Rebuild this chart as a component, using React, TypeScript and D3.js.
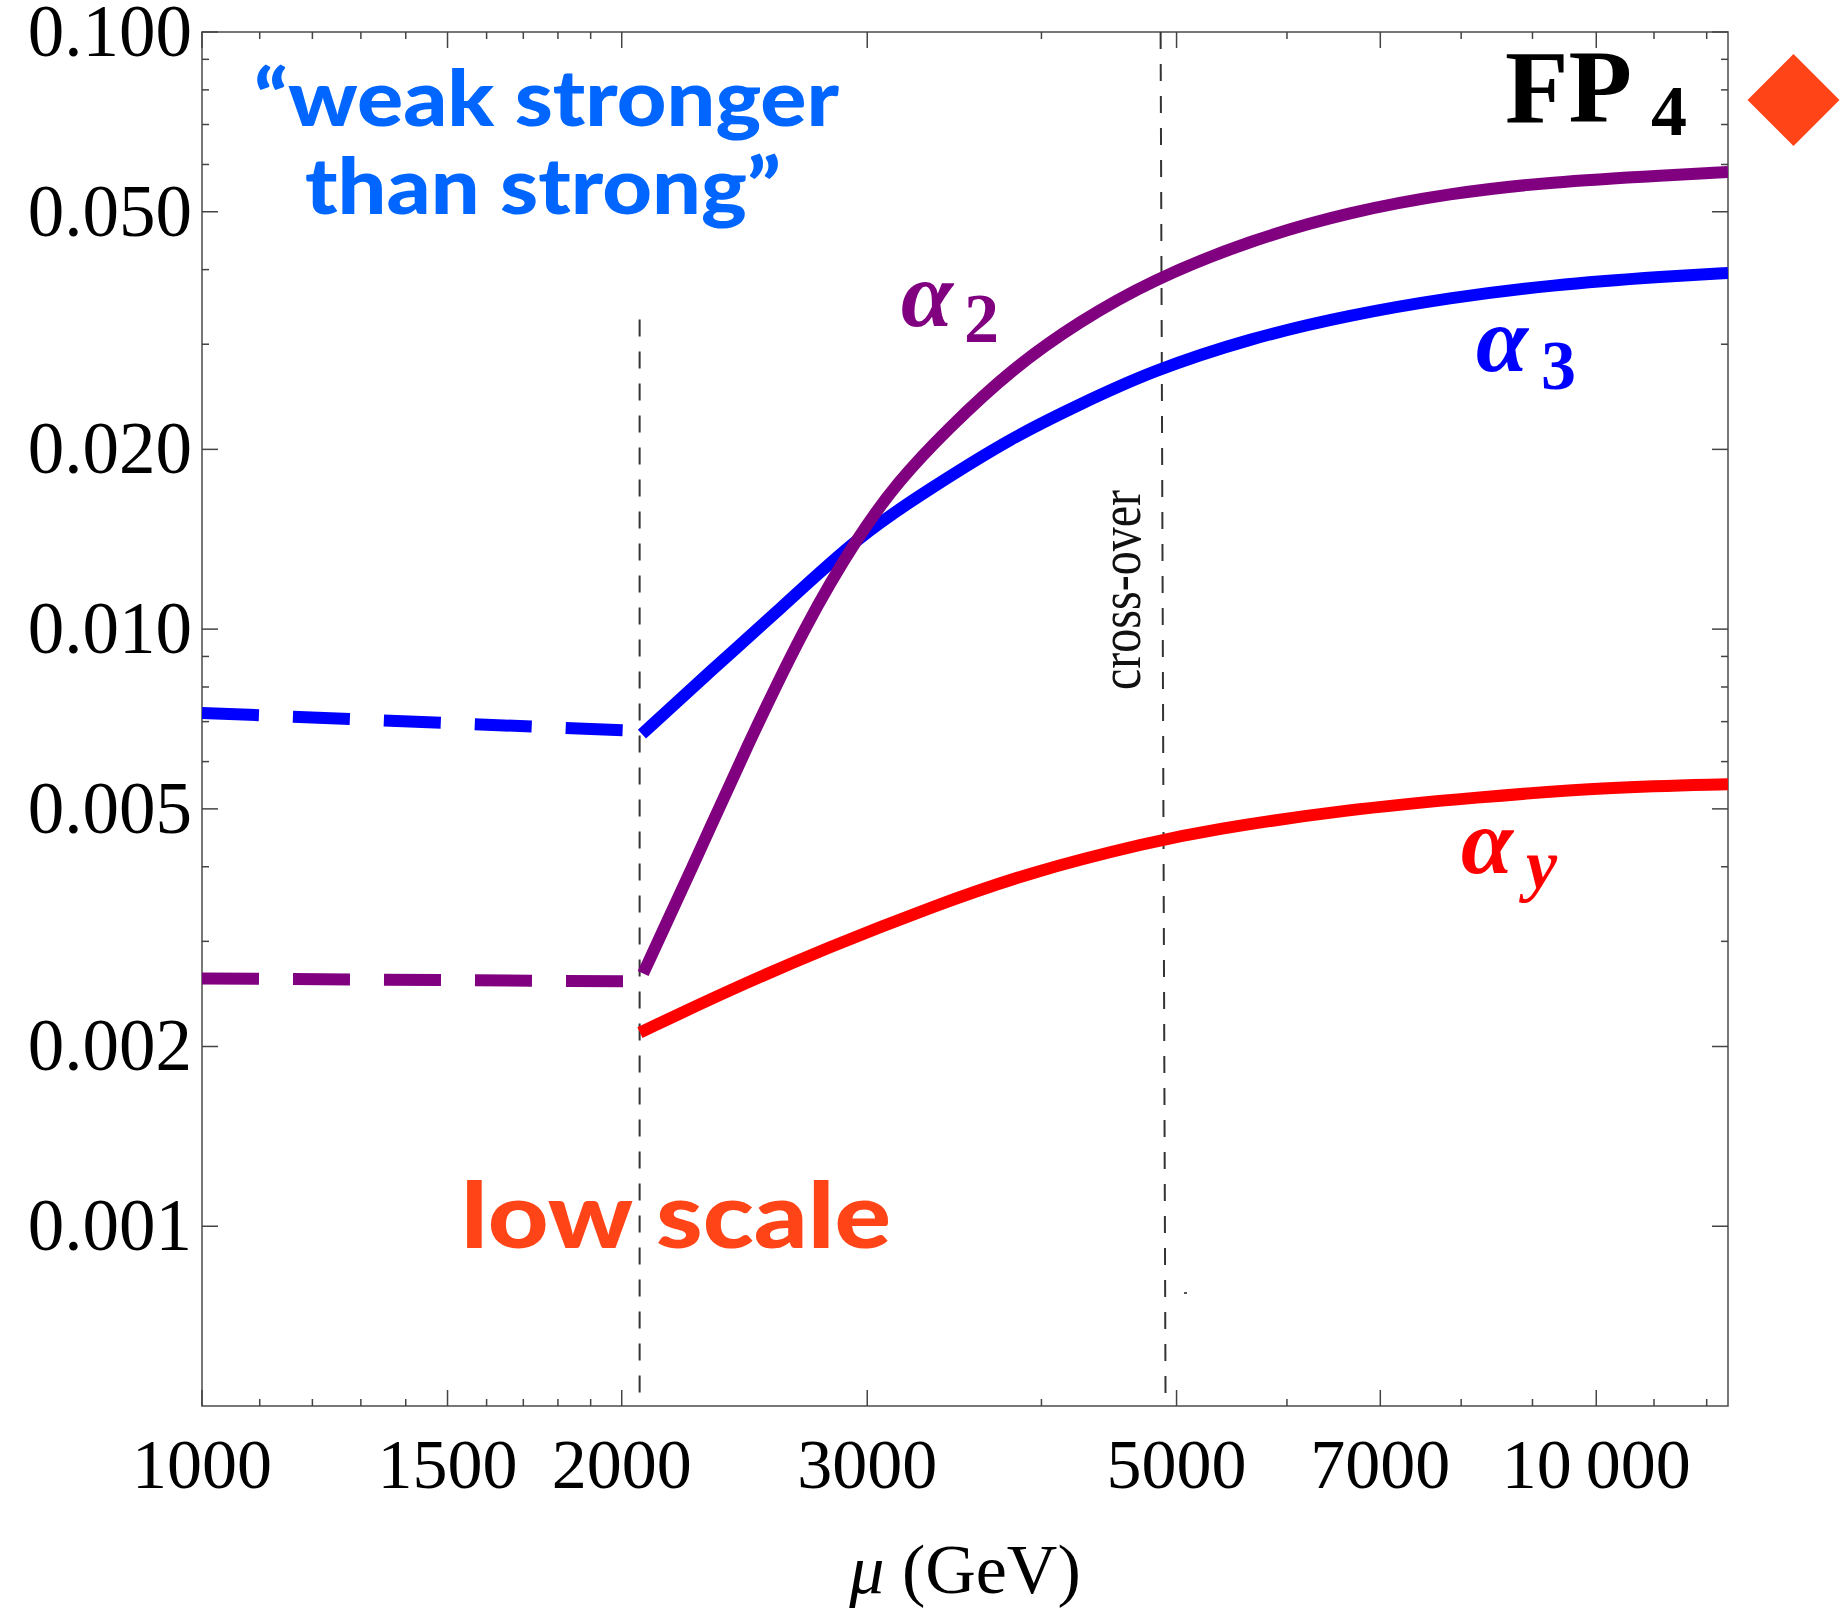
import * as d3 from 'd3'
import { useEffect, useRef } from 'react'

// frame of the plot (px)
const W = 1843
const H = 1610
const left = 202
const right = 1728
const top = 32
const bottom = 1406

// axis ticks
const xMajor = [1000, 1500, 2000, 3000, 5000, 7000, 10000]
const xLabels = ['1000', '1500', '2000', '3000', '5000', '7000', '10\u2009000']
const xMinor = [1100, 1200, 1300, 1400, 1600, 1700, 1800, 1900, 4000, 6000, 8000, 9000, 11000, 12000]
const yMajor = [0.1, 0.05, 0.02, 0.01, 0.005, 0.002, 0.001]
const yLabels = ['0.100', '0.050', '0.020', '0.010', '0.005', '0.002', '0.001']
const yMinor = [0.09, 0.08, 0.07, 0.06, 0.04, 0.03, 0.009, 0.008, 0.007, 0.006, 0.004, 0.003]

// vertical markers
const lowScaleMu = 2060
const lowScaleTop = 0.033
const crossOverMu = [4870, 4910] // top, bottom

// alpha_2 (purple)
const a2Mu = [2072, 2265, 2452, 2716, 2955, 3151, 3423, 3817, 4263, 4786, 5645, 6659, 7855, 9265, 11296, 12430]
const a2 = [0.00265, 0.00415, 0.00627, 0.0103, 0.0143, 0.0176, 0.0216, 0.0274, 0.0328, 0.0383, 0.0448, 0.0500, 0.0537, 0.0561, 0.0576, 0.0583]
// alpha_3 (blue)
const a3Mu = [2068, 2325, 2598, 2955, 3328, 3817, 4263, 4786, 5645, 6659, 7855, 9265, 11296, 12430]
const a3 = [0.00667, 0.00858, 0.0108, 0.0143, 0.0172, 0.0210, 0.0238, 0.0270, 0.0307, 0.0336, 0.0359, 0.0377, 0.0390, 0.0395]
// alpha_y (red)
const ayMu = [2061, 2392, 2821, 3328, 3926, 4786, 5284, 6582, 8212, 10231, 12430]
const ay = [0.00211, 0.00249, 0.00294, 0.00342, 0.00392, 0.00440, 0.00461, 0.00498, 0.00523, 0.00544, 0.00550]
// low-scale continuation (dashed)
const lowMu = [1000, 2060]
const a3Low = [0.00724, 0.00675]
const a2Low = [0.00260, 0.00257]

const PURPLE = '#800080'
const BLUE = '#0000ff'
const RED = '#ff0000'
const ORANGE = '#ff4418'

const App = () => {
  const svgRef = useRef<SVGSVGElement>(null)

  useEffect(() => {
    const svg = d3.select(svgRef.current)
    svg.selectAll('*').remove()

    const x = d3.scaleLog().domain([1000, 12430]).range([left, right])
    const y = d3.scaleLog().domain([0.0005, 0.1]).range([bottom, top])

    svg.append('defs').append('clipPath').attr('id', 'plot')
      .append('rect').attr('x', left).attr('y', top).attr('width', right - left).attr('height', bottom - top)

    // frame
    svg.append('rect').attr('x', left).attr('y', top).attr('width', right - left).attr('height', bottom - top)
      .attr('fill', 'none').attr('stroke', '#555').attr('stroke-width', 1.6)

    // ticks on all four sides, pointing inward
    const ticks = svg.append('g').attr('stroke', '#444').attr('stroke-width', 1.5)
    const xt = [...xMajor.map(v => ({ v, l: 16 })), ...xMinor.map(v => ({ v, l: 7 }))]
    const yt = [...yMajor.map(v => ({ v, l: 16 })), ...yMinor.map(v => ({ v, l: 7 }))]
    ticks.selectAll('.xb').data(xt).join('line')
      .attr('x1', d => x(d.v)).attr('x2', d => x(d.v)).attr('y1', bottom).attr('y2', d => bottom - d.l)
    ticks.selectAll('.xt').data(xt).join('line')
      .attr('x1', d => x(d.v)).attr('x2', d => x(d.v)).attr('y1', top).attr('y2', d => top + d.l)
    ticks.selectAll('.yl').data(yt).join('line')
      .attr('y1', d => y(d.v)).attr('y2', d => y(d.v)).attr('x1', left).attr('x2', d => left + d.l)
    ticks.selectAll('.yr').data(yt).join('line')
      .attr('y1', d => y(d.v)).attr('y2', d => y(d.v)).attr('x1', right).attr('x2', d => right - d.l)

    // tick labels
    const serif = "'Liberation Serif', 'Times New Roman', serif"
    svg.append('g').selectAll('text').data(xMajor).join('text')
      .attr('x', d => x(d)).attr('y', 1488).attr('text-anchor', 'middle')
      .style('font-family', serif).style('font-size', '70px').text((d, i) => xLabels[i])
    svg.append('g').selectAll('text').data(yMajor).join('text')
      .attr('x', 192).attr('y', d => y(d) + 24).attr('text-anchor', 'end')
      .style('font-family', serif).style('font-size', '73px').text((d, i) => yLabels[i])

    // axis title
    const xt2 = svg.append('text').attr('x', 965).attr('y', 1593).attr('text-anchor', 'middle')
      .style('font-family', serif).style('font-size', '70px')
    xt2.append('tspan').style('font-style', 'italic').text('\u03bc')
    xt2.append('tspan').text(' (GeV)')

    // vertical dashed markers
    svg.append('line').attr('x1', x(lowScaleMu)).attr('x2', x(lowScaleMu))
      .attr('y1', y(lowScaleTop)).attr('y2', bottom)
      .attr('stroke', '#333').attr('stroke-width', 2).attr('stroke-dasharray', '17,15')
    svg.append('line').attr('x1', x(crossOverMu[0])).attr('x2', x(crossOverMu[1]))
      .attr('y1', top).attr('y2', bottom)
      .attr('stroke', '#333').attr('stroke-width', 2).attr('stroke-dasharray', '17,15')
    // stray speck under the cross-over line
    svg.append('rect').attr('x', 1184).attr('y', 1292).attr('width', 3).attr('height', 2).attr('fill', '#555')

    // curves
    const line = d3.line<[number, number]>().x(d => x(d[0])).y(d => y(d[1])).curve(d3.curveBasis)
    const plot = svg.append('g').attr('clip-path', 'url(#plot)')
    const series = [
      { mu: lowMu, a: a3Low, c: BLUE, dash: '57,34' },
      { mu: lowMu, a: a2Low, c: PURPLE, dash: '57,34' },
      { mu: ayMu, a: ay, c: RED, dash: null },
      { mu: a3Mu, a: a3, c: BLUE, dash: null },
      { mu: a2Mu, a: a2, c: PURPLE, dash: null }
    ]
    plot.selectAll('path').data(series).join('path')
      .attr('d', s => line(s.mu.map((m, i) => [m, s.a[i]] as [number, number])))
      .attr('fill', 'none').attr('stroke', s => s.c).attr('stroke-width', 12)
      .attr('stroke-dasharray', s => s.dash)

    // curve labels
    const alphaLabel = (ax: number, ay0: number, sx: number, sy: number, sub: string, c: string, italicSub: boolean) => {
      const g = svg.append('g').attr('fill', c).style('font-family', serif).style('font-weight', 'bold')
      g.append('text').attr('x', ax).attr('y', ay0).style('font-size', '94px').style('font-style', 'italic').text('\u03b1')
      g.append('text').attr('x', sx).attr('y', sy).style('font-size', '70px')
        .style('font-style', italicSub ? 'italic' : 'normal').text(sub)
    }
    alphaLabel(901, 326, 964, 342, '2', PURPLE, false)
    alphaLabel(1476, 371, 1541, 389, '3', BLUE, false)
    alphaLabel(1461, 873, 1526, 888, 'y', RED, true)

    // FP4 and marker
    const fp = svg.append('g').style('font-family', serif).style('font-weight', 'bold').attr('fill', '#000')
    fp.append('text').attr('x', 1505).attr('y', 122).style('font-size', '104px').text('FP')
    fp.append('text').attr('x', 1651).attr('y', 135).style('font-size', '72px').text('4')
    const cx = 1793.5, cy = 100, r = 46
    svg.append('path').attr('d', `M${cx},${cy - r}L${cx + r},${cy}L${cx},${cy + r}L${cx - r},${cy}Z`).attr('fill', ORANGE)

    // annotations
    const sans = "Lato, 'Open Sans', sans-serif"
    svg.append('text').attr('x', 254).attr('y', 126).attr('textLength', 585).attr('lengthAdjust', 'spacingAndGlyphs')
      .style('font-family', sans).style('font-weight', 900).style('font-size', '78px').attr('fill', '#0066ff')
      .text('\u201cweak stronger')
    svg.append('text').attr('x', 305).attr('y', 214).attr('textLength', 476).attr('lengthAdjust', 'spacingAndGlyphs')
      .style('font-family', sans).style('font-weight', 900).style('font-size', '78px').attr('fill', '#0066ff')
      .text('than strong\u201d')
    svg.append('text').attr('x', 461).attr('y', 1248).attr('textLength', 430).attr('lengthAdjust', 'spacingAndGlyphs')
      .style('font-family', sans).style('font-weight', 900).style('font-size', '92px').attr('fill', ORANGE)
      .text('low scale')
    svg.append('text').attr('transform', 'translate(1140,590) rotate(-90)').attr('text-anchor', 'middle')
      .attr('textLength', 200).attr('lengthAdjust', 'spacingAndGlyphs')
      .style('font-family', serif).style('font-size', '60px').attr('fill', '#111')
      .text('cross-over')
  }, [])

  return (
    <svg ref={svgRef} width={W} height={H}
      style={{ position: 'absolute', left: 0, top: 0, background: '#fff' }} />
  )
}

export default App
